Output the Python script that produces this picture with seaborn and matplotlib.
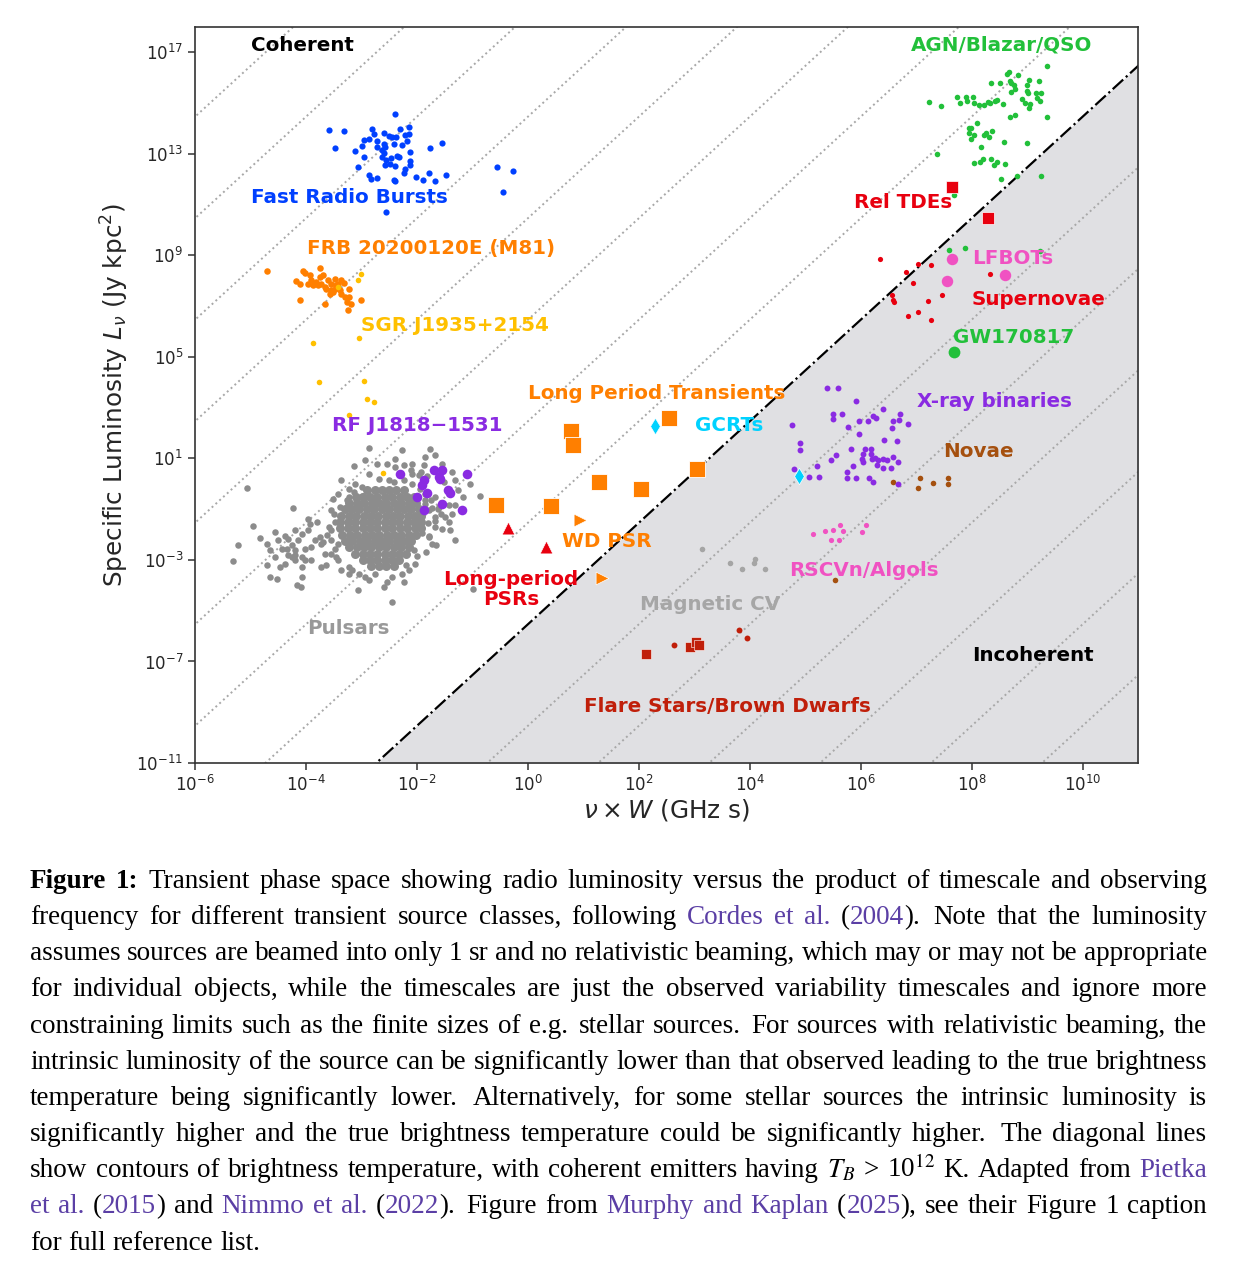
import numpy as np
import matplotlib
matplotlib.use('Agg')
import matplotlib.pyplot as plt
import seaborn as sns
from matplotlib.ticker import NullLocator, FixedLocator, LogFormatterSciNotation

# ---- data (log10 of nu*W [GHz s] and log10 of L_nu [Jy kpc^2]) ----
frb_lx = [-2.39, -3.58, -3.32, -2.81, -2.77, -2.59, -2.51, -2.45, -2.38, -2.30, -2.15, -2.22, -2.15,
          -2.95, -2.87, -2.72, -2.60, -2.57, -2.42, -2.26, -2.18, -3.48, -3.11, -2.99, -2.71, -2.63,
          -2.60, -2.12, -1.76, -1.55, -2.96, -2.62, -2.56, -2.47, -2.36, -2.32, -2.57, -2.48, -2.39,
          -2.12, -2.13, -3.07, -2.22, -2.23, -2.86, -2.83, -2.72, -2.42, -2.39, -2.02, -1.89, -1.79,
          -1.68, -1.48, -2.56, -0.56, -0.26, -0.44]
frb_ly = [14.57, 13.94, 13.91, 13.98, 13.78, 13.81, 13.72, 13.65, 13.68, 13.98, 14.07, 13.76, 13.78,
          13.55, 13.59, 13.52, 13.39, 13.26, 13.39, 13.36, 13.52, 13.23, 13.13, 13.30, 13.28, 13.15,
          13.02, 13.06, 13.23, 13.44, 12.86, 12.89, 12.77, 12.82, 12.93, 12.86, 12.56, 12.60, 12.53,
          12.73, 12.57, 12.49, 12.40, 12.26, 12.17, 12.01, 12.06, 11.97, 11.92, 12.10, 11.99, 12.23,
          11.92, 12.17, 10.70, 12.47, 12.34, 11.50]

m81_lx = [-4.71, -4.05, -4.02, -3.75, -4.18, -4.11, -3.96, -3.90, -3.87, -3.81, -3.75, -3.69, -3.72,
          -3.66, -3.60, -3.54, -3.48, -3.45, -3.36, -3.39, -3.57, -3.51, -3.36, -3.22, -3.29, -3.22,
          -3.26, -3.19, -3.01, -3.25, -4.10, -3.66, -3.63, -3.78, -3.93, -3.48, -3.54, -3.42, -3.32]
m81_ly = [8.37, 8.39, 8.31, 8.50, 7.99, 7.86, 7.89, 8.02, 7.82, 7.95, 8.15, 8.21, 7.89,
          7.75, 8.02, 7.89, 8.08, 7.82, 8.02, 7.62, 7.49, 7.56, 7.49, 7.69, 7.36, 7.36,
          7.16, 7.07, 7.23, 6.86, 7.26, 7.07, 7.69, 7.82, 8.21, 7.69, 7.62, 7.89, 7.91]

sgr_lx = [-3.01, -3.07, -3.42, -3.05, -3.87, -3.76, -2.95, -2.90, -2.77, -3.22, -2.61]
sgr_ly = [8.28, 8.02, 7.75, 5.76, 5.56, 4.01, 4.05, 3.34, 3.24, 2.70, 0.42]

# pulsar cloud: dense core (rows of constant L) plus the scattered outskirts
psr_core = [
    (-0.25, [-2.90, -2.76, -2.63, -2.50, -2.37, -2.24]),
    (-0.50, [-3.10, -2.97, -2.85, -2.72, -2.58, -2.45, -2.31, -2.18, -2.06]),
    (-0.75, [-3.22, -3.08, -2.95, -2.81, -2.68, -2.55, -2.42, -2.28, -2.15, -2.02]),
    (-1.00, [-3.30, -3.17, -3.04, -2.90, -2.77, -2.63, -2.50, -2.36, -2.23, -2.10, -1.97]),
    (-1.25, [-3.36, -3.23, -3.10, -2.96, -2.83, -2.70, -2.56, -2.43, -2.30, -2.16, -2.03, -1.92]),
    (-1.50, [-3.38, -3.25, -3.12, -2.98, -2.85, -2.72, -2.58, -2.45, -2.32, -2.18, -2.05, -1.92]),
    (-1.75, [-3.38, -3.24, -3.11, -2.98, -2.84, -2.71, -2.57, -2.44, -2.31, -2.17, -2.04, -1.93]),
    (-2.00, [-3.35, -3.21, -3.08, -2.94, -2.81, -2.68, -2.54, -2.41, -2.28, -2.14, -2.01]),
    (-2.25, [-3.30, -3.17, -3.03, -2.90, -2.76, -2.63, -2.50, -2.36, -2.23, -2.10]),
    (-2.50, [-3.22, -3.08, -2.95, -2.82, -2.68, -2.55, -2.42, -2.28, -2.15]),
    (-2.75, [-3.12, -2.98, -2.85, -2.72, -2.58, -2.45, -2.32, -2.20]),
    (-3.00, [-2.98, -2.85, -2.72, -2.58, -2.45, -2.32]),
    (-3.22, [-2.82, -2.68, -2.55, -2.42]),
]
psr_lx = [-5.06, -4.24, -4.96, -5.23, -5.31, -4.82, -4.71, -4.56, -4.65, -4.56, -4.71, -4.65, -4.53,
          -4.38, -4.32, -4.20, -4.26, -4.20, -4.14, -4.08, -3.96, -3.93, -3.96, -4.02, -3.90, -3.84,
          -3.75, -3.72, -3.66, -3.90, -4.02, -4.20, -4.26, -4.38, -4.47, -4.08, -4.08, -4.17, -4.09,
          -3.72, -3.63, -3.54, -3.54, -3.48, -3.54, -3.39, -3.42, -3.37, -3.14, -2.93, -2.87, -2.72,
          -2.54, -2.39, -2.27, -2.24, -2.09, -1.88, -1.85, -1.76, -1.67, -1.55, -1.37, -2.09, -2.39,
          -2.51, -2.69, -2.87, -3.11, -3.23, -3.26, -3.23, -2.99, -1.31, -1.25, -1.16, -1.04, -0.86,
          -1.31, -1.37, -1.43, -1.55, -1.40, -1.31, -1.73, -2.06, -2.03, -2.27, -2.24, -2.54, -2.60,
          -2.87, -3.05, -3.17, -3.23, -3.42, -3.36, -3.07, -2.45, -0.98, -3.54, -3.42, -3.48, -3.23,
          -2.93, -2.75, -2.45, -2.15, -1.79, -1.67, -1.67, -1.79, -1.61, -1.43, -1.85, -1.85, -2.24,
          -2.75, -2.99, -3.14, -2.42, -1.97, -1.67, -1.52, -2.09, -4.50, -4.44, -4.35, -4.32, -4.20,
          -4.08, -1.85, -1.74, -1.62, -1.50, -1.80, -1.68, -1.56, -1.90, -1.78, -1.66, -1.84, -1.72,
          -1.95, -1.82, -3.50, -3.58, -3.62, -3.46, -3.70, -3.52, -3.80, -2.00, -1.92, -2.10, -2.20]
psr_ly = [-0.17, -0.95, -1.66, -2.43, -3.04, -2.12, -2.36, -1.90, -2.62, -2.88, -3.21, -3.67, -3.74,
          -2.07, -2.16, -1.83, -2.43, -2.62, -2.23, -1.97, -1.37, -1.57, -1.83, -2.56, -2.49, -2.23,
          -2.10, -2.36, -2.75, -3.02, -3.02, -3.02, -2.88, -3.15, -3.28, -3.28, -3.67, -4.00, -4.07,
          -3.28, -3.21, -2.78, -1.83, -1.51, -1.05, -0.91, -0.39, 0.16, 0.69, 0.92, 1.42, 0.79,
          0.79, 0.99, 1.32, 0.73, 0.79, 0.73, 1.06, 1.38, 1.12, 0.79, 0.46, 0.40, 0.66,
          0.14, 0.20, 0.40, 0.00, -0.19, -0.65, -0.52, -0.46, 0.14, -0.26, -0.52, 0.00, -0.49,
          -0.85, -1.18, -1.51, -1.77, -1.83, -2.20, -2.36, -2.62, -3.15, -3.54, -3.87, -3.87, -4.07,
          -3.80, -3.54, -3.41, -3.28, -3.02, -3.41, -4.20, -4.66, -4.13, -2.23, -2.36, -2.56, -3.54,
          -3.67, -3.54, -3.67, -3.41, -2.10, -1.70, -1.31, -1.05, -0.91, -0.85, -0.65, -0.39, 0.14,
          -0.26, -0.13, -0.32, 0.07, 0.33, -0.52, 0.07, 0.00, -2.23, -2.56, -2.56, -2.82, -2.82,
          -2.88, -0.80, -0.62, -1.00, -1.30, -1.55, -1.45, -1.20, -1.95, -2.05, -2.40, -2.70, -0.95,
          -0.20, 0.30, -1.20, -1.70, -2.00, -2.90, -2.30, -0.60, -1.50, -2.85, 0.45, 0.55, -3.20]

rfj_lx = [-2.31, -1.70, -1.55, -1.61, -1.58, -1.88, -1.91, -1.10, -2.00, -1.82, -1.44, -1.40, -1.55,
          -1.19, -1.87]
rfj_ly = [0.40, 0.53, 0.53, 0.27, 0.20, 0.14, -0.06, 0.40, -0.52, -0.36, -0.23, -0.36, -0.81,
          -1.02, -1.02]

lpt_lx = [0.78, 0.81, 2.55, 3.05, 1.29, 2.04, -0.57, 0.41]
lpt_ly = [2.07, 1.54, 2.59, 0.60, 0.07, -0.22, -0.85, -0.86]

gcrt_lx = [2.30, 4.89]
gcrt_ly = [2.26, 0.29]

lppsr_lx = [-0.35, 0.32]
lppsr_ly = [-1.74, -2.49]

wdpsr_lx = [0.94, 1.33]
wdpsr_ly = [-1.44, -3.72]

mcv_lx = [3.14, 3.65, 3.86, 4.07, 4.10, 4.27]
mcv_ly = [-2.58, -3.12, -3.34, -3.12, -2.98, -3.34]

flare_sq_lx = [2.13, 2.93, 3.03, 3.09]
flare_sq_ly = [-6.69, -6.43, -6.23, -6.36]
flare_dot_lx = [2.63, 3.80, 3.96]
flare_dot_ly = [-6.35, -5.77, -6.08]

rscvn_lx = [5.14, 5.36, 5.50, 5.63, 5.68, 5.46, 5.61, 6.02, 6.10]
rscvn_ly = [-1.99, -1.87, -1.81, -1.64, -1.86, -2.23, -2.20, -1.90, -1.64]

novae_lx = [6.59, 7.03, 7.07, 7.30, 7.58, 7.58, 5.54]
novae_ly = [0.07, -0.15, 0.24, 0.05, 0.24, -0.02, -3.78]

xrb_lx = [5.39, 5.60, 5.91, 5.51, 5.50, 5.67, 4.77, 5.77, 5.97, 6.14, 6.22, 6.28, 6.40, 6.59, 6.69,
          6.71, 6.85, 6.57, 5.97, 6.43, 6.65, 4.91, 4.90, 5.83, 5.55, 5.47, 6.08, 6.19, 6.04, 6.19,
          6.02, 6.05, 6.20, 6.26, 6.32, 6.41, 6.47, 6.58, 6.68, 6.29, 6.41, 6.55, 5.86, 5.75, 5.75,
          5.92, 6.15, 6.23, 6.68, 4.79, 5.21, 5.07, 5.25]
xrb_ly = [3.79, 3.79, 3.25, 2.76, 2.57, 2.74, 2.30, 2.24, 2.47, 2.46, 2.67, 2.60, 2.96, 2.47, 2.50,
          2.74, 2.37, 2.20, 1.97, 1.74, 1.69, 1.61, 1.32, 1.36, 1.12, 0.95, 1.36, 1.38, 1.19, 1.19,
          0.99, 0.86, 0.99, 1.03, 0.95, 0.99, 0.95, 1.06, 0.86, 0.75, 0.63, 0.61, 0.69, 0.46, 0.24,
          0.24, 0.24, 0.07, 0.00, 0.58, 0.69, 0.27, 0.27]

agn_lx = [9.36, 8.67, 8.64, 8.83, 8.35, 8.51, 8.69, 8.71, 8.77, 9.04, 9.21, 9.00, 8.79, 8.71, 9.00,
          9.01, 9.16, 9.26, 9.18, 9.23, 8.91, 8.97, 9.05, 9.03, 7.24, 7.44, 7.74, 7.90, 7.92, 8.02,
          7.80, 8.05, 8.14, 8.23, 8.30, 8.34, 8.43, 8.46, 8.57, 8.70, 8.78, 9.36, 7.95, 7.99, 8.10,
          7.95, 8.04, 7.99, 8.22, 8.26, 8.32, 8.37, 8.59, 8.99, 8.17, 7.37, 8.04, 8.16, 8.20, 8.35,
          8.45, 8.40, 8.60, 8.53, 8.81, 9.26, 7.68, 7.60, 7.89, 9.24]
agn_ly = [16.47, 16.21, 16.15, 16.11, 15.79, 15.78, 15.88, 15.78, 15.73, 15.91, 15.88, 15.71, 15.56,
          15.42, 15.49, 15.38, 15.38, 15.38, 15.20, 15.07, 15.17, 14.99, 14.96, 14.81, 15.03, 14.89,
          15.23, 15.23, 15.10, 15.23, 14.99, 14.99, 14.91, 14.94, 15.04, 14.99, 15.10, 15.12, 14.96,
          14.46, 14.52, 14.46, 14.04, 14.04, 14.20, 13.83, 13.76, 13.60, 13.76, 13.83, 13.68, 13.90,
          13.48, 13.41, 13.26, 12.99, 12.65, 12.68, 12.78, 12.78, 12.70, 12.56, 12.59, 12.02, 12.13,
          12.13, 11.38, 9.23, 9.30, 9.17]

tde_lx = [7.65, 8.30]
tde_ly = [11.68, 10.46]

sn_lx = [6.34, 7.04, 7.27, 6.82, 6.95, 6.56, 6.58, 6.61, 7.22, 7.47, 6.85, 7.03, 7.27, 8.33]
sn_ly = [8.86, 8.67, 8.62, 8.36, 7.91, 7.43, 7.26, 7.18, 7.19, 7.44, 6.61, 6.77, 6.44, 8.28]

lfbot_lx = [7.65, 7.56, 8.60]
lfbot_ly = [8.84, 7.99, 8.24]

gw_lx = [7.68]
gw_ly = [5.19]

# brightness temperature contours (K); the coherent limit is drawn dash-dot
tb_coherent = 1e12
tb_exp = [-40, -36, -32, -28, -24, -20, -16, -12, -8, -4, 0, 4, 8, 16, 20, 24, 28, 32, 36, 40, 44]

x_tick_exp = [-6, -4, -2, 0, 2, 4, 6, 8, 10]
y_tick_exp = [-11, -7, -3, 1, 5, 9, 13, 17]

# ---- styling ----
sns.set_style('ticks')
plt.rcParams['font.family'] = ['DejaVu Sans']
plt.rcParams['axes.edgecolor'] = '#333333'

ORANGE = '#ff7f00'
RED = '#e8000f'
GREEN = '#22c03a'
PURPLE = '#8a2be2'
PINK = '#f052c2'

W, H = 1242, 1272
fig = plt.figure(figsize=(W / 100, H / 100), dpi=100)
ax = fig.add_axes([195 / W, 1 - 763 / H, 943 / W, 736 / H])
ax.set_xscale('log')
ax.set_yscale('log')
ax.set_xlim(1e-6, 1e11)
ax.set_ylim(1e-11, 1e18)

# L_nu = 2 k T_B (nu W)^2 / kpc^2, in Jy kpc^2 with nu W in GHz s
k_B = 1.380649e-23
kpc = 3.0857e19
conv = 2 * k_B * 1e18 / (1e-26 * kpc ** 2)
xs = np.logspace(-7, 12, 300)
ax.fill_between(xs, conv * tb_coherent * xs ** 2, 1e-12, color='#e0e0e3', lw=0, zorder=0)
for e in tb_exp:
    ax.plot(xs, conv * 10.0 ** e * xs ** 2, ls=':', color='#a8a8a8', lw=1.4, zorder=1)
ax.plot(xs, conv * tb_coherent * xs ** 2, ls='-.', color='black', lw=1.6, zorder=2)

core_lx = [v for row_y, row in psr_core for v in row]
core_ly = [row_y for row_y, row in psr_core for v in row]

groups = [
    (core_lx, core_ly, '#8c8c8c', 'o', 42, 0),
    (psr_lx, psr_ly, '#8c8c8c', 'o', 22, 0),
    (frb_lx, frb_ly, '#0040ff', 'o', 20, 0),
    (m81_lx, m81_ly, ORANGE, 'o', 22, 0),
    (sgr_lx, sgr_ly, '#ffc000', 'o', 16, 0),
    (rfj_lx, rfj_ly, PURPLE, 'o', 48, 0),
    (lpt_lx, lpt_ly, ORANGE, 's', 120, 0.6),
    (gcrt_lx, gcrt_ly, '#00d2ff', 'd', 70, 0.5),
    (lppsr_lx, lppsr_ly, RED, '^', 85, 0.5),
    (wdpsr_lx, wdpsr_ly, ORANGE, '>', 85, 0.5),
    (mcv_lx, mcv_ly, '#a5a5a5', 'o', 16, 0),
    (flare_sq_lx, flare_sq_ly, '#c01f0a', 's', 48, 0.4),
    (flare_dot_lx, flare_dot_ly, '#c01f0a', 'o', 18, 0),
    (rscvn_lx, rscvn_ly, PINK, 'o', 14, 0),
    (novae_lx, novae_ly, '#a5500f', 'o', 16, 0),
    (xrb_lx, xrb_ly, PURPLE, 'o', 18, 0),
    (agn_lx, agn_ly, GREEN, 'o', 16, 0),
    (tde_lx, tde_ly, RED, 's', 70, 0.5),
    (sn_lx, sn_ly, RED, 'o', 14, 0),
    (lfbot_lx, lfbot_ly, PINK, 'o', 68, 0),
    (gw_lx, gw_ly, GREEN, 'o', 72, 0),
]
for lx, ly, c, m, s, lw in groups:
    sns.scatterplot(x=10.0 ** np.array(lx), y=10.0 ** np.array(ly), ax=ax, color=c, marker=m,
                    s=s, linewidth=lw, edgecolor='white', zorder=3, legend=False)

labels = [
    ('Coherent', 0.0594, 0.9755, 'black', 'left'),
    ('AGN/Blazar/QSO', 0.7593, 0.9755, GREEN, 'left'),
    ('Fast Radio Bursts', 0.0594, 0.769, '#0040ff', 'left'),
    ('Rel TDEs', 0.6988, 0.7609, RED, 'left'),
    ('FRB 20200120E (M81)', 0.1188, 0.6997, ORANGE, 'left'),
    ('LFBOTs', 0.824, 0.6848, PINK, 'left'),
    ('Supernovae', 0.824, 0.6304, RED, 'left'),
    ('SGR J1935+2154', 0.176, 0.5951, '#ffc000', 'left'),
    ('GW170817', 0.8038, 0.5788, GREEN, 'left'),
    ('Long Period Transients', 0.3531, 0.5027, ORANGE, 'left'),
    ('X-ray binaries', 0.7656, 0.4918, PURPLE, 'left'),
    ('RF J1818\u22121531', 0.1453, 0.4579, PURPLE, 'left'),
    ('GCRTs', 0.5302, 0.4579, '#00d2ff', 'left'),
    ('Novae', 0.7932, 0.4226, '#a5500f', 'left'),
    ('WD PSR', 0.3892, 0.3016, ORANGE, 'left'),
    ('RSCVn/Algols', 0.6299, 0.2609, PINK, 'left'),
    ('Long-period\nPSRs', 0.3351, 0.2357, RED, 'center'),
    ('Magnetic CV', 0.4719, 0.216, '#a6a6a6', 'left'),
    ('Pulsars', 0.1188, 0.1821, '#999999', 'left'),
    ('Incoherent', 0.824, 0.1467, 'black', 'left'),
    ('Flare Stars/Brown Dwarfs', 0.4125, 0.0774, '#c01f0a', 'left'),
]
for txt, fx, fy, c, ha in labels:
    ax.text(fx, fy, txt, transform=ax.transAxes, color=c, fontsize=14.3, fontweight='bold',
            ha=ha, va='center', linespacing=1.1, zorder=4)

ax.xaxis.set_major_locator(FixedLocator([10.0 ** e for e in x_tick_exp]))
ax.yaxis.set_major_locator(FixedLocator([10.0 ** e for e in y_tick_exp]))
ax.xaxis.set_major_formatter(LogFormatterSciNotation())
ax.yaxis.set_major_formatter(LogFormatterSciNotation())
ax.xaxis.set_minor_locator(NullLocator())
ax.yaxis.set_minor_locator(NullLocator())
ax.tick_params(labelsize=12, length=5, width=1.1, color='#333333')
for sp in ax.spines.values():
    sp.set_linewidth(1.2)
ax.set_xlabel(r'$\nu \times W$ (GHz s)', fontsize=17.8, labelpad=1.5)
ax.set_ylabel(r'Specific Luminosity $L_\nu$ (Jy kpc$^2$)', fontsize=17.8, labelpad=4)

# ---- justified caption ----
caption = [
    [('Figure 1:', 'b'), (' Transient phase space showing radio luminosity versus the product of timescale and observing', 'n')],
    [('frequency for different transient source classes, following ', 'n'), ('Cordes et al.', 'l'), (' (', 'n'),
     ('2004', 'l'), (').  Note that the luminosity', 'n')],
    [('assumes sources are beamed into only 1 sr and no relativistic beaming, which may or may not be appropriate', 'n')],
    [('for individual objects, while the timescales are just the observed variability timescales and ignore more', 'n')],
    [('constraining limits such as the finite sizes of e.g.  stellar sources.  For sources with relativistic beaming, the', 'n')],
    [('intrinsic luminosity of the source can be significantly lower than that observed leading to the true brightness', 'n')],
    [('temperature being significantly lower.  Alternatively, for some stellar sources the intrinsic luminosity is', 'n')],
    [('significantly higher and the true brightness temperature could be significantly higher.  The diagonal lines', 'n')],
    [('show contours of brightness temperature, with coherent emitters having ', 'n'), ('$T_B$', 'n'),
     (' > 10$^{12}$ K. Adapted from ', 'n'), ('Pietka', 'l')],
    [('et al.', 'l'), (' (', 'n'), ('2015', 'l'), (') and ', 'n'), ('Nimmo et al.', 'l'), (' (', 'n'), ('2022', 'l'),
     (').  Figure from ', 'n'), ('Murphy and Kaplan', 'l'), (' (', 'n'), ('2025', 'l'), ('), see their Figure 1 caption', 'n')],
    [('for full reference list.', 'n')],
]
LINK = '#5b3fa5'
left_px, right_px = 30, 1207
renderer = fig.canvas.get_renderer()


def split_words(segs):
    # a word may be made of several styled pieces; a double space marks a sentence end
    words, extra = [[]], [0]
    for text, style in segs:
        for j, p in enumerate(text.split(' ')):
            if j > 0:
                if not words[-1]:
                    extra[-1] += 1
                else:
                    words.append([])
                    extra.append(0)
            if p:
                words[-1].append((p, style))
    if not words[-1]:
        words.pop()
        extra.pop()
    return words, extra


def make_piece(p, style, fs):
    return fig.text(0, 0, p, fontsize=fs, family='Liberation Serif',
                    weight='bold' if style == 'b' else 'normal',
                    color=LINK if style == 'l' else 'black',
                    math_fontfamily='stix', va='baseline', ha='left')


# pick the caption size so the tightest justified line still has ~0.24 em between words
probe = 18.0
fits = []
for segs in caption[:-1]:
    words, extra = split_words(segs)
    total = 0
    for word in words:
        for p, style in word:
            t = make_piece(p, style, probe)
            total += t.get_window_extent(renderer).width
            t.remove()
    space = 0.24 * probe * 100 / 72
    fits.append(probe * (right_px - left_px) / (total + space * (len(words) - 1)))
cap_fs = min(fits)
space_px = 0.25 * cap_fs * 100 / 72

for i, segs in enumerate(caption):
    words, extra = split_words(segs)
    placed = []
    total = 0
    for word in words:
        pieces = []
        for p, style in word:
            t = make_piece(p, style, cap_fs)
            w = t.get_window_extent(renderer).width
            pieces.append((t, w))
            total += w
        placed.append(pieces)
    n_gap = len(words) - 1
    weights = [1 + 0.35 * extra[k] for k in range(1, len(words))]
    if i == len(caption) - 1:
        gaps = [space_px] * n_gap
    else:
        unit = (right_px - left_px - total) / sum(weights)
        gaps = [unit * wgt for wgt in weights]
    base = 888 + 36.15 * i
    x = left_px
    for k, pieces in enumerate(placed):
        for t, w in pieces:
            t.set_position((x / W, 1 - base / H))
            x += w
        if k < n_gap:
            x += gaps[k]

fig.savefig('out.png', dpi=100)
